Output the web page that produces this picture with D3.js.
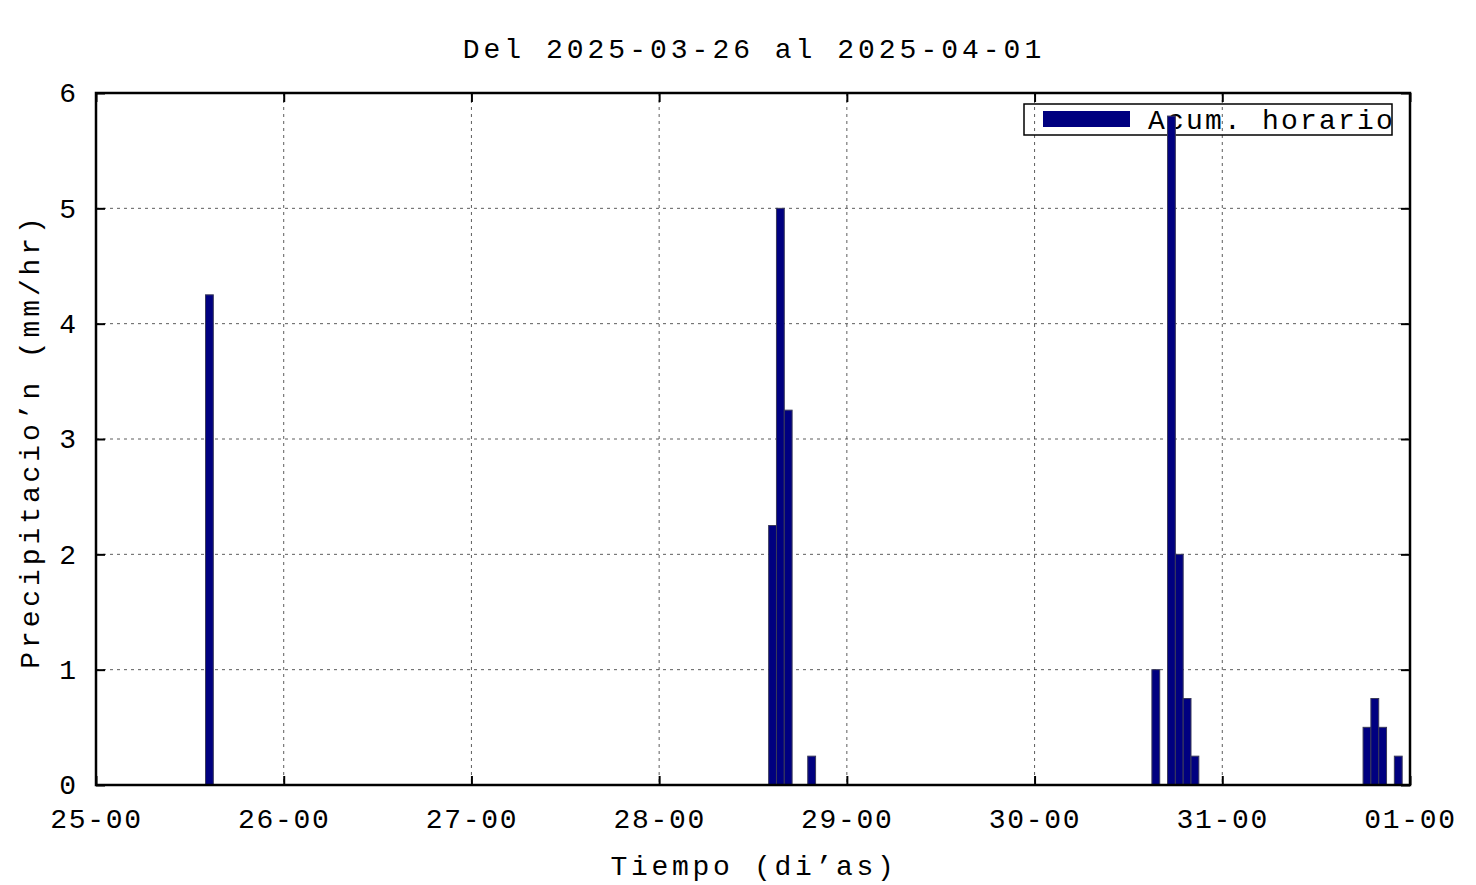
<!DOCTYPE html>
<html>
<head>
<meta charset="utf-8">
<script src="https://cdn.jsdelivr.net/npm/d3@7"></script>
<style>
  body { margin: 0; background: #fff; }
  text { font-family: "Liberation Mono", monospace; fill: #000; }
</style>
</head>
<body>
<svg></svg>
<script>
// hourly rain bars, start of each hour
const times = ["2025-03-25 14:00", "2025-03-28 14:00", "2025-03-28 15:00", "2025-03-28 16:00",
  "2025-03-28 19:00", "2025-03-30 15:00", "2025-03-30 17:00", "2025-03-30 18:00",
  "2025-03-30 19:00", "2025-03-30 20:00", "2025-03-31 18:00", "2025-03-31 19:00",
  "2025-03-31 20:00", "2025-03-31 22:00"];
const values = [4.25, 2.25, 5.0, 3.25, 0.25, 1.0, 5.8, 2.0, 0.75, 0.25, 0.5, 0.75, 0.5, 0.25];
const yTicks = [0, 1, 2, 3, 4, 5, 6];
const xDomain = ["2025-03-25 00:00", "2025-04-01 00:00"];
const title = "Del 2025-03-26 al 2025-04-01";
const legendLabel = "Acum. horario";

const svgWidth = 1476, svgHeight = 885;
const margin = { top: 93, right: 66, bottom: 100, left: 96 };
const width = svgWidth - margin.left - margin.right;
const height = svgHeight - margin.top - margin.bottom;

const parse = d3.timeParse("%Y-%m-%d %H:%M");
const data = times.map(function(t, i) { return { t: parse(t), v: values[i] }; });

const svg = d3.select("svg")
    .attr("width", svgWidth)
    .attr("height", svgHeight);

const xScale = d3.scaleTime().domain(xDomain.map(parse)).range([0, width]),
    yScale = d3.scaleLinear().domain([0, 6]).range([height, 0]);

const g = svg.append("g")
    .attr("transform", "translate(" + margin.left + "," + margin.top + ")");

const xTicks = d3.timeDay.range(xScale.domain()[0], d3.timeHour.offset(xScale.domain()[1], 1));

// grid
g.selectAll(".gx").data(xTicks.slice(1, -1)).enter().append("line")
    .attr("x1", function(d) { return xScale(d); }).attr("x2", function(d) { return xScale(d); })
    .attr("y1", 0).attr("y2", height)
    .attr("stroke", "#333").attr("stroke-width", 0.8).attr("stroke-dasharray", "3,4");
g.selectAll(".gy").data(yTicks.slice(1, -1)).enter().append("line")
    .attr("x1", 0).attr("x2", width)
    .attr("y1", function(d) { return yScale(d); }).attr("y2", function(d) { return yScale(d); })
    .attr("stroke", "#333").attr("stroke-width", 0.8).attr("stroke-dasharray", "3,4");

// legend box
const lg = g.append("g").attr("transform", "translate(" + (1024 - margin.left) + "," + (104 - margin.top) + ")");
lg.append("rect").attr("width", 368).attr("height", 31)
    .attr("fill", "none").attr("stroke", "#000").attr("stroke-width", 1.5);
lg.append("rect").attr("x", 19).attr("y", 7).attr("width", 87).attr("height", 16)
    .attr("fill", "#000080");
lg.append("text").attr("x", 124).attr("y", 25)
    .style("font-size", "28px").style("letter-spacing", "2.2px")
    .text(legendLabel);

// bars
g.selectAll(".bar").data(data).enter().append("rect")
    .attr("x", function(d) { return xScale(d.t); })
    .attr("width", function(d) { return xScale(d3.timeHour.offset(d.t, 1)) - xScale(d.t); })
    .attr("y", function(d) { return yScale(d.v); })
    .attr("height", function(d) { return height - yScale(d.v); })
    .attr("fill", "#000080")
    .attr("stroke", "#3a3a5a").attr("stroke-width", 1);

// axes: ticks inward on all four sides
g.append("g")
    .attr("transform", "translate(0," + height + ")")
    .call(d3.axisBottom(xScale).tickValues(xTicks).tickFormat(d3.timeFormat("%d-%H"))
        .tickSize(-9).tickPadding(23))
    .call(function(a) {
      a.select(".domain").remove();
      a.selectAll("line").attr("stroke", "#000").attr("stroke-width", 2);
      a.selectAll("text").style("font-size", "28px").style("letter-spacing", "1.7px")
          .attr("font-family", null);
    });
g.append("g")
    .call(d3.axisTop(xScale).tickValues(xTicks).tickFormat("").tickSize(-9))
    .call(function(a) {
      a.select(".domain").remove();
      a.selectAll("line").attr("stroke", "#000").attr("stroke-width", 2);
    });
g.append("g")
    .call(d3.axisLeft(yScale).tickValues(yTicks).tickFormat(d3.format("d"))
        .tickSize(-9).tickPadding(20))
    .call(function(a) {
      a.select(".domain").remove();
      a.selectAll("line").attr("stroke", "#000").attr("stroke-width", 2);
      a.selectAll("text").style("font-size", "28px").attr("font-family", null);
    });
g.append("g")
    .attr("transform", "translate(" + width + ",0)")
    .call(d3.axisRight(yScale).tickValues(yTicks).tickFormat("").tickSize(-9))
    .call(function(a) {
      a.select(".domain").remove();
      a.selectAll("line").attr("stroke", "#000").attr("stroke-width", 2);
    });

// frame
g.append("rect").attr("width", width).attr("height", height)
    .attr("fill", "none").attr("stroke", "#000").attr("stroke-width", 2.5);

// titles
svg.append("text")
    .attr("x", 754).attr("y", 58)
    .style("text-anchor", "middle").style("font-size", "28px").style("letter-spacing", "4px")
    .text(title);
svg.append("text")
    .attr("x", 754).attr("y", 875)
    .style("text-anchor", "middle").style("font-size", "28px").style("letter-spacing", "3.7px")
    .text("Tiempo (di’as)");
svg.append("text")
    .attr("transform", "translate(39," + 441 + ") rotate(-90)")
    .style("text-anchor", "middle").style("font-size", "28px").style("letter-spacing", "3.9px")
    .text("Precipitacio’n (mm/hr)");
</script>
</body>
</html>
